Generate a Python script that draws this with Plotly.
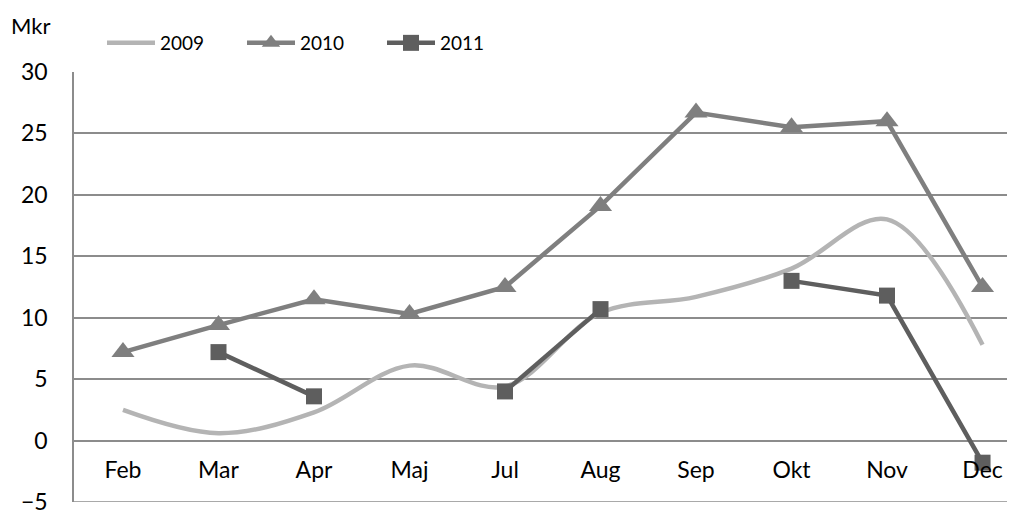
import plotly.graph_objects as go

months = ["Feb", "Mar", "Apr", "Maj", "Jul", "Aug", "Sep", "Okt", "Nov", "Dec"]
y2009 = [2.5, 0.6, 2.3, 6.1, 4.4, 10.4, 11.7, 14.0, 18.0, 7.8]
y2010 = [7.2, 9.4, 11.5, 10.3, 12.5, 19.1, 26.7, 25.5, 26.0, 12.5]
y2011 = [None, 7.2, 3.6, None, 4.0, 10.7, None, 13.0, 11.8, -1.8]
y_ticks = [-5, 0, 5, 10, 15, 20, 25, 30]

FONT = "Lato"
GRID = "#8c8c8c"
W, H = 1007, 505  # page body has an 8px margin
fig = go.Figure()
fig.add_trace(go.Scatter(x=months, y=y2009, name="2009", mode="lines",
                         line=dict(color="#b4b4b4", width=4.5, shape="spline", smoothing=1.0)))
fig.add_trace(go.Scatter(x=months, y=y2010, name="2010", mode="lines+markers",
                         line=dict(color="#7f7f7f", width=4.5),
                         marker=dict(symbol="triangle-up", size=20, color="#7f7f7f")))
fig.add_trace(go.Scatter(x=months, y=y2011, name="2011", mode="lines+markers",
                         line=dict(color="#5e5e5e", width=4.5),
                         marker=dict(symbol="square", size=16, color="#5e5e5e"),
                         connectgaps=False))

fig.update_layout(
    width=W, height=H,
    margin=dict(l=66, r=0, t=64, b=11, autoexpand=False),
    paper_bgcolor="white", plot_bgcolor="white",
    font=dict(family=FONT, size=23, color="black"),
    showlegend=True,
    legend=dict(orientation="h", x=94 / W, y=1 - 35 / H, xref="container", yref="container",
                xanchor="left", yanchor="middle",
                font=dict(size=19), entrywidth=77, entrywidthmode="pixels",
                itemwidth=48, bgcolor="rgba(0,0,0,0)", tracegroupgap=0),
    xaxis=dict(type="category", categoryorder="array", categoryarray=months,
               range=[-0.513, 9.34], anchor="free", position=5/35,
               showline=False, showgrid=False, ticks="", ticklabelstandoff=13,
               automargin=False, tickfont=dict(size=23)),
    yaxis=dict(range=[-5, 30], tickvals=y_ticks, showgrid=True, gridcolor=GRID,
               gridwidth=1.5, zeroline=False, showline=True, linecolor=GRID,
               linewidth=1.5, ticks="", ticklabelstandoff=20, automargin=False,
               ticklabeloverflow="allow", tickfont=dict(size=23)),
)
fig.add_shape(type="line", xref="paper", yref="y", x0=0, x1=1, y0=-5, y1=-5,
              line=dict(color=GRID, width=1.5), layer="below")
fig.add_annotation(text="Mkr", xref="paper", yref="paper", x=0, y=1.0,
                   xanchor="left", yanchor="middle", yshift=47, showarrow=False,
                   xshift=-65, font=dict(size=22))
fig.write_html("out.html")
